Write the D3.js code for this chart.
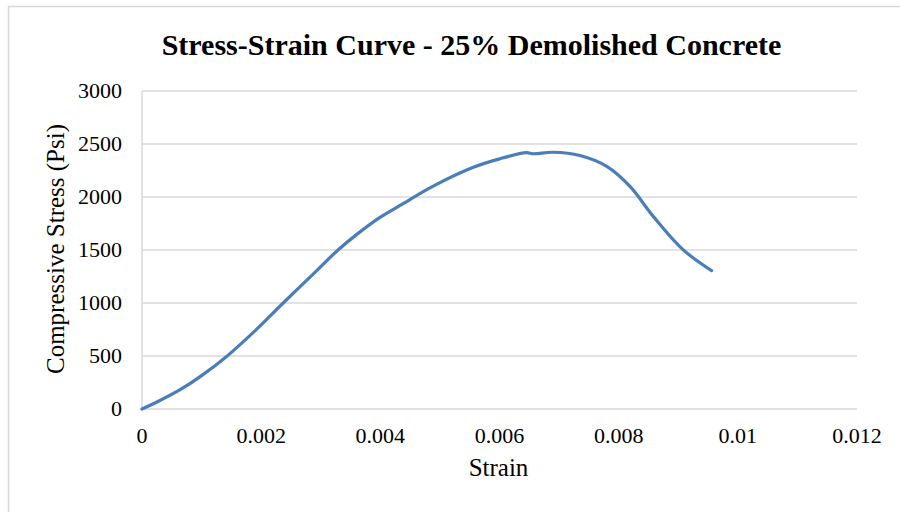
<!DOCTYPE html>
<html>
<head>
<meta charset="utf-8">
<script src="https://cdn.jsdelivr.net/npm/d3@7"></script>
<style>
  html, body { margin: 0; padding: 0; background: #fff; }
  svg { display: block; }
</style>
</head>
<body>
<svg id="chart" width="900" height="512"></svg>
<script>
// Measured stress-strain points for the 25% demolished concrete mix
const strain = [0, 0.0003, 0.00064, 0.001, 0.00142, 0.0019, 0.00237, 0.00285, 0.00329, 0.0036,
                0.004, 0.00433, 0.00488, 0.00556, 0.006, 0.00645, 0.00657, 0.0069, 0.00735,
                0.0078, 0.00819, 0.00858, 0.00908, 0.00956];
const stress = [0, 80, 182, 315, 496, 740, 1000, 1260, 1500, 1645,
                1810, 1920, 2100, 2280, 2360, 2418, 2408, 2422, 2392,
                2289, 2100, 1817, 1503, 1305];
const xTicks = [0, 0.002, 0.004, 0.006, 0.008, 0.01, 0.012];
const yTicks = [0, 500, 1000, 1500, 2000, 2500, 3000];

const titleText = "Stress-Strain Curve - 25% Demolished Concrete";
const xTitle = "Strain";
const yTitle = "Compressive Stress (Psi)";

const serif = "'Liberation Serif', 'Times New Roman', Tinos, serif";

const svg = d3.select("#chart");
const plot = { left: 142, right: 857, top: 91, bottom: 409 };

// outer chart frame
svg.append("rect")
  .attr("x", 8.5).attr("y", 6.5)
  .attr("width", 940).attr("height", 560)
  .attr("fill", "none").attr("stroke", "#d9d9d9").attr("stroke-width", 1.5);

const x = d3.scaleLinear().domain([0, 0.012]).range([plot.left, plot.right]);
const y = d3.scaleLinear().domain([0, 3000]).range([plot.bottom, plot.top]);

// horizontal gridlines
svg.append("g")
  .selectAll("line")
  .data(yTicks)
  .join("line")
  .attr("x1", plot.left).attr("x2", plot.right)
  .attr("y1", d => y(d)).attr("y2", d => y(d))
  .attr("stroke", "#d9d9d9").attr("stroke-width", 1.5);

// vertical axis line
svg.append("line")
  .attr("x1", plot.left).attr("x2", plot.left)
  .attr("y1", plot.top).attr("y2", plot.bottom)
  .attr("stroke", "#d9d9d9").attr("stroke-width", 1.5);

// y tick labels
svg.append("g")
  .selectAll("text")
  .data(yTicks)
  .join("text")
  .attr("x", 122).attr("y", d => y(d))
  .attr("dy", "0.3em")
  .attr("text-anchor", "end")
  .attr("font-family", serif)
  .attr("font-size", 22)
  .text(d => d);

// x tick labels
const fmt = d => d === 0 ? "0" : String(+d.toFixed(3));
svg.append("g")
  .selectAll("text")
  .data(xTicks)
  .join("text")
  .attr("x", d => x(d)).attr("y", 443)
  .attr("text-anchor", "middle")
  .attr("font-family", serif)
  .attr("font-size", 22)
  .text(fmt);

// data curve
const line = d3.line()
  .x((d, i) => x(strain[i]))
  .y(d => y(d))
  .curve(d3.curveCatmullRom.alpha(0.5));

svg.append("path")
  .datum(stress)
  .attr("d", line)
  .attr("fill", "none")
  .attr("stroke", "#4a7ebb")
  .attr("stroke-width", 3.2)
  .attr("stroke-linecap", "round")
  .attr("stroke-linejoin", "round");

// titles
svg.append("text")
  .attr("x", 471.5).attr("y", 55)
  .attr("text-anchor", "middle")
  .attr("font-family", serif)
  .attr("font-size", 30).attr("font-weight", "bold")
  .text(titleText);

svg.append("text")
  .attr("x", 498.5).attr("y", 476)
  .attr("text-anchor", "middle")
  .attr("font-family", serif)
  .attr("font-size", 25)
  .text(xTitle);

svg.append("text")
  .attr("transform", "translate(64,249) rotate(-90)")
  .attr("text-anchor", "middle")
  .attr("font-family", serif)
  .attr("font-size", 25)
  .text(yTitle);
</script>
</body>
</html>
